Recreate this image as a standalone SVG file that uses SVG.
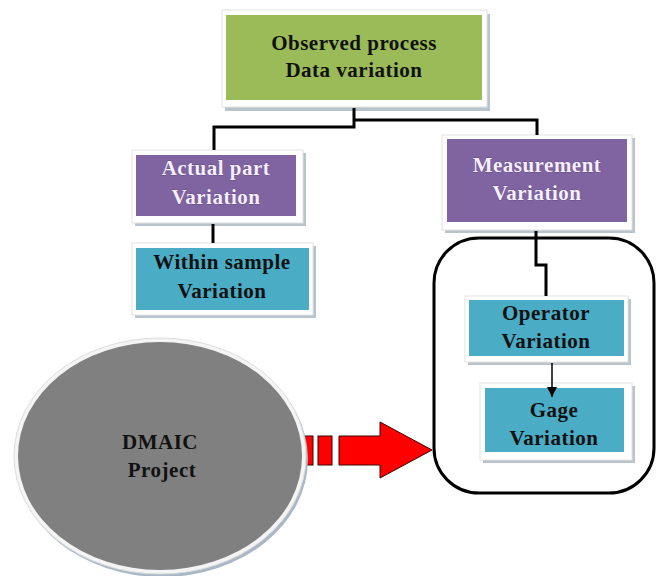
<svg xmlns="http://www.w3.org/2000/svg" width="661" height="576" viewBox="0 0 661 576">
<defs>
<style>
.frame{fill:#ffffff;stroke:#e2e2e2;stroke-width:1}
.shadow{fill:#b9c3cc}
.t{font-family:"Liberation Serif","Times New Roman",serif;font-weight:bold;font-size:21px;letter-spacing:0.5px;text-anchor:middle}
.dark{fill:#111111}
.light{fill:#f6efff;stroke:#3a2a55;stroke-width:0.4;paint-order:stroke}
.conn{fill:none;stroke:#000000;stroke-width:3}
</style>
<marker id="ah" markerWidth="10" markerHeight="10" refX="10" refY="5" orient="auto" markerUnits="userSpaceOnUse" viewBox="0 0 10 10">
<path d="M0,0 L10,5 L0,10 Z" fill="#000000"/>
</marker>
</defs>
<rect width="661" height="576" fill="#ffffff"/>

<g id="measurement-group">
<rect x="434" y="238" width="220" height="255" rx="45" ry="45" fill="none" stroke="#000000" stroke-width="3"/>
</g>

<g id="observed">
<rect class="shadow" x="225" y="14" width="265" height="97"/>
<rect class="frame" x="222" y="10" width="265" height="97"/>
<rect x="226" y="15" width="256" height="85" fill="#9bbb59"/>
<text class="t dark" x="354" y="50">Observed process</text>
<text class="t dark" x="354" y="77">Data variation</text>
</g>

<g id="actual">
<rect class="shadow" x="135" y="153" width="171" height="73"/>
<rect class="frame" x="132" y="150" width="171" height="73"/>
<rect x="136" y="155" width="160" height="61" fill="#8064a2"/>
<text class="t light" x="216" y="175">Actual part</text>
<text class="t light" x="216" y="204">Variation</text>
</g>

<g id="within">
<rect class="shadow" x="135" y="246" width="181" height="72"/>
<rect class="frame" x="132" y="243" width="181" height="72"/>
<rect x="136" y="248" width="173" height="62" fill="#4bacc6"/>
<text class="t dark" x="222" y="269">Within sample</text>
<text class="t dark" x="222" y="298">Variation</text>
</g>

<g id="measurement">
<rect class="shadow" x="445" y="138" width="190" height="95"/>
<rect class="frame" x="442" y="135" width="190" height="95"/>
<rect x="447" y="139" width="180" height="83" fill="#8064a2"/>
<text class="t light" x="537" y="172">Measurement</text>
<text class="t light" x="537" y="200">Variation</text>
</g>

<g id="operator">
<rect class="shadow" x="468" y="299" width="163" height="66"/>
<rect class="frame" x="465" y="296" width="163" height="66"/>
<rect x="469" y="300" width="155" height="56" fill="#4bacc6"/>
<text class="t dark" x="546" y="320">Operator</text>
<text class="t dark" x="546" y="348">Variation</text>
</g>

<g id="gage">
<rect class="shadow" x="483" y="386" width="152" height="77"/>
<rect class="frame" x="480" y="383" width="152" height="77"/>
<rect x="485" y="388" width="139" height="64" fill="#4bacc6"/>
<text class="t dark" x="554" y="417">Gage</text>
<text class="t dark" x="554" y="445">Variation</text>
</g>

<g id="arrow">
<rect x="305" y="436" width="8" height="29" fill="#ff0000" stroke="#3a0000" stroke-width="1"/>
<rect x="318" y="436" width="14" height="29" fill="#ff0000" stroke="#3a0000" stroke-width="1"/>
<path d="M339,436 L380,436 L380,422 L432,450 L380,478 L380,465 L339,465 Z" fill="#ff0000" stroke="#3a0000" stroke-width="1"/>
</g>

<g id="dmaic">
<ellipse cx="162" cy="459" rx="146" ry="118" fill="#a9b7c6"/>
<ellipse cx="160" cy="456" rx="146" ry="118" fill="#f4f4f4" stroke="#dddddd" stroke-width="1"/>
<ellipse cx="160" cy="456" rx="142" ry="114" fill="#808080"/>
<text class="t dark" x="160" y="449">DMAIC</text>
<text class="t dark" x="162" y="477">Project</text>
</g>

<g id="connectors">
<path class="conn" d="M354,108 L354,127 L214,127 L214,150"/>
<path class="conn" d="M354,120 L537,120 L537,135"/>
<path class="conn" d="M213,224 L213,243"/>
<path class="conn" d="M536,231 L536,265 L546,265 L546,296"/>
<line x1="552" y1="363" x2="552" y2="397" stroke="#000000" stroke-width="1.5" marker-end="url(#ah)"/>
</g>
</svg>
